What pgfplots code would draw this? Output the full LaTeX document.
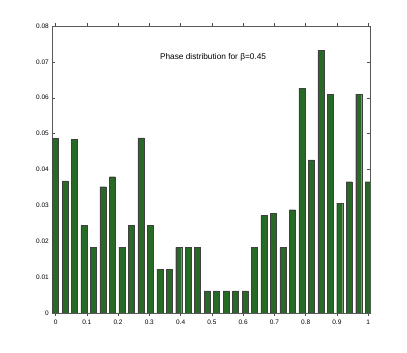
\documentclass[border=0pt]{standalone}
\usepackage{pgfplots}
\pgfplotsset{compat=1.18}
\usepackage{fontspec}
\setmainfont{Liberation Sans}
\definecolor{bargreen}{RGB}{38,106,38}

\begin{document}
\begin{tikzpicture}
  \begin{axis}[
      name=ax,
      scale only axis,
      width=317.7pt,
      height=287pt,
      xmin=-0.0105, xmax=1.006,
      ymin=0, ymax=0.08,
      xtick={0,0.1,...,1},
      ytick={0,0.01,...,0.08},
      scaled y ticks=false,
      scaled x ticks=false,
      xticklabels={0,0.1,0.2,0.3,0.4,0.5,0.6,0.7,0.8,0.9,1},
      yticklabels={0,0.01,0.02,0.03,0.04,0.05,0.06,0.07,0.08},
      /pgf/number format/assume math mode=true,
      tick label style={font=\fontsize{6.5}{7}\selectfont},
      major tick length=3pt,
      tick style={black!70, line width=0.4pt},
      axis line style={black!65, line width=0.5pt},
      ybar,
      bar width=0.0192,
      clip=true,
  ]
  \addplot[fill=bargreen, draw=black!75, line width=0.3pt] coordinates {
      (0.0000,0.0487) (0.0303,0.0368) (0.0606,0.0485) (0.0909,0.0244)
      (0.1212,0.0183) (0.1515,0.0352) (0.1818,0.0380) (0.2121,0.0183)
      (0.2424,0.0244) (0.2727,0.0488) (0.3030,0.0244) (0.3333,0.0122)
      (0.3636,0.0122) (0.3939,0.0183) (0.4242,0.0183) (0.4545,0.0183)
      (0.4848,0.0062) (0.5152,0.0062) (0.5455,0.0062) (0.5758,0.0062)
      (0.6061,0.0062) (0.6364,0.0183) (0.6667,0.0272) (0.6970,0.0277)
      (0.7273,0.0183) (0.7576,0.0288) (0.7879,0.0627) (0.8182,0.0427)
      (0.8485,0.0733) (0.8788,0.0610) (0.9091,0.0306) (0.9394,0.0366)
      (0.9697,0.0610) (1.0000,0.0366)
  };
  \node[font=\fontsize{8.3}{10}\selectfont] at (rel axis cs:0.506,0.892)
      {Phase distribution for β=0.45};
  \end{axis}
  % white margin as in the reference
  \path (ax.south west) ++(-52.3pt,-40pt);
  \path (ax.north east) ++(37pt,26pt);
\end{tikzpicture}
\end{document}
